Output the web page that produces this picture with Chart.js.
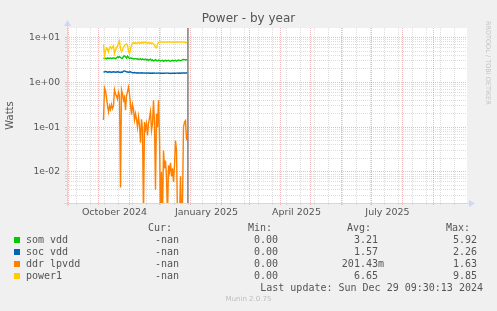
<!DOCTYPE html>
<html>
<head>
<meta charset="utf-8">
<script src="https://cdn.jsdelivr.net/npm/chart.js"></script>
<style>
html, body { margin: 0; padding: 0; background: #f0f0f0; }
#wrap { position: relative; width: 497px; height: 311px; overflow: hidden; font-family: "DejaVu Sans", sans-serif; color: #555; }
#chart { position: absolute; left: 0; top: 0; }
.t { position: absolute; white-space: pre; }
.mono { font-family: "DejaVu Sans Mono", monospace; font-size: 10px; line-height: 12px; }
.sw { position: absolute; width: 6px; height: 6px; }
</style>
</head>
<body>
<div id="wrap">
<canvas id="chart" width="497" height="311"></canvas>
<div class="t" style="left:0;width:497px;top:11px;text-align:center;font-size:12px;line-height:15px;">Power - by year</div>
<div class="t" style="left:484px;top:21px;writing-mode:vertical-rl;font-size:6.5px;color:#c4c4c4;">RRDTOOL / TOBI OETIKER</div>
<div class="t" style="left:0;width:497px;top:295px;text-align:center;font-size:7px;line-height:9px;color:#bdbdbd;">Munin 2.0.75</div>
<div id="legend"></div>
</div>
<script>
// days counted from 1 Jan 2025
const firstDay = -87;          // 5 Oct 2024, one value per day
const nowDay = -2.6;           // Sun Dec 29 09:30:13 2024

const seriesNames = ['som vdd', 'soc vdd', 'ddr lpvdd', 'power1'];
const seriesColors = ['#00CC00', '#0066B3', '#FF8000', '#FFCC00'];

const somVdd = [
  3.5, 3.4, 3.45, 3.35, 3.5, 3.4, 3.45, 3.5, 3.4, 3.45,
  3.5, 3.45, 3.4, 3.5, 3.7, 3.6, 3.75, 3.6, 3.4, 3.45,
  3.8, 3.9, 3.7, 3.5, 3.85, 3.6, 3.4, 3.5, 3.45, 3.4,
  3.35, 3.3, 3.4, 3.3, 3.35, 3.25, 3.3, 3.35, 3.2, 3.3,
  3.25, 3.2, 3.3, 3.15, 3.25, 3.1, 3.2, 3.3, 3.05, 3.15,
  3.0, 3.1, 3.2, 3.05, 3.0, 3.15, 3.1, 3.0, 3.05, 3.1,
  2.95, 3.05, 3.1, 3.0, 3.05, 3.1, 3.0, 2.95, 3.05, 3.1,
  3.0, 3.05, 3.1, 3.0, 3.05, 3.15, 3.1, 3.05, 3.1, 3.2,
  3.25, 3.2, 3.15, 3.2, 3.2
];
const socVdd = [
  1.72, 1.70, 1.75, 1.72, 1.68, 1.70, 1.72, 1.70, 1.68, 1.70,
  1.72, 1.70, 1.68, 1.70, 1.72, 1.70, 1.68, 1.66, 1.70, 1.68,
  1.78, 1.80, 1.76, 1.72, 1.70, 1.68, 1.70, 1.72, 1.66, 1.64,
  1.64, 1.65, 1.63, 1.62, 1.64, 1.62, 1.61, 1.62, 1.63, 1.62,
  1.61, 1.62, 1.60, 1.61, 1.62, 1.61, 1.60, 1.61, 1.60, 1.61,
  1.60, 1.61, 1.60, 1.59, 1.60, 1.61, 1.60, 1.59, 1.60, 1.59,
  1.60, 1.59, 1.60, 1.61, 1.60, 1.59, 1.60, 1.58, 1.59, 1.60,
  1.59, 1.60, 1.59, 1.60, 1.61, 1.60, 1.61, 1.60, 1.61, 1.61,
  1.61, 1.62, 1.61, 1.62, 1.62
];
const ddrLpvdd = [
  0.145, 0.75, 0.65, 0.45, 0.30, 0.22, 0.30, 0.25, 0.32, 0.26,
  0.30, 0.68, 0.55, 0.50, 0.42, 0.60, 0.50, 0.0045, 0.68, 0.55,
  0.40, 0.47, 0.24, 0.50, 0.62, 0.78, 0.55, 0.32, 0.19, 0.32,
  0.25, 0.145, 0.20, 0.15, 0.10, 0.17, 0.11, 0.045, 0.15, 0.09,
  0.001, 0.13, 0.09, 0.12, 0.065, 0.12, 0.16, 0.22, 0.085, 0.12,
  0.40, 0.12, 0.004, 0.20, 0.10, 0.40, 0.06, 0.001, 0.01, 0.001,
  0.03, 0.012, 0.018, 0.008, 0.001, 0.014, 0.010, 0.016, 0.008, 0.012,
  0.006, 0.014, 0.05, 0.03, 0.001, 0.002, 0.001, 0.008, 0.001, 0.002,
  0.10, 0.13, 0.14, 0.055, 0.05
];
const power1 = [
  7.0, 3.9, 5.0, 5.8, 5.5, 4.8, 6.0, 6.2, 5.6, 6.1,
  6.5, 4.4, 5.2, 6.0, 6.4, 7.5, 8.4, 5.6, 4.8, 5.2,
  6.1, 6.6, 7.0, 7.2, 6.8, 5.0, 4.4, 5.4, 6.8, 7.5,
  7.6, 7.4, 7.7, 7.3, 7.6, 7.8, 7.4, 7.7, 7.5, 7.8,
  7.6, 7.9, 7.6, 7.7, 7.5, 7.7, 7.4, 7.6, 7.3, 7.5,
  7.2, 6.8, 6.0, 5.9, 7.1, 7.8, 7.9, 7.95, 7.9, 7.95,
  8.0, 7.95, 7.9, 7.95, 7.9, 7.95, 8.0, 7.95, 7.9, 7.95,
  7.9, 7.95, 7.9, 7.95, 8.0, 7.95, 7.9, 7.95, 7.9, 7.95,
  7.9, 7.95, 7.6, 7.7, 7.9
];
const seriesValues = [somVdd, socVdd, ddrLpvdd, power1];

const legendCur = ['-nan', '-nan', '-nan', '-nan'];
const legendMin = ['0.00', '0.00', '0.00', '0.00'];
const legendAvg = ['3.21', '1.57', '201.43m', '6.65'];
const legendMax = ['5.92', '2.26', '1.63', '9.85'];
const lastUpdate = 'Last update: Sun Dec 29 09:30:13 2024';

// axis
const xMin = -123.5, xMax = 276.5;
const yMin = 0.00203, yMax = 16.3;
const xLabelDays = [-76, 16, 106, 197];
const xLabels = ['October 2024', 'January 2025', 'April 2025', 'July 2025'];
const monthStartDays = [-122, -92, -61, -31, 0, 31, 59, 90, 120, 151, 181, 212, 243];
const biweekDays = [-114, -100, -86, -72, -58, -44, -30, -16, -2, 12, 26, 40, 54, 68, 82, 96,
  110, 124, 138, 152, 166, 180, 194, 208, 222, 236, 250, 264];
const yTickValues = [10, 1, 0.1, 0.01];
const yTickLabels = ['1e+01', '1e+00', '1e-01', '1e-02'];

const majorGrid = 'rgba(225, 100, 100, 0.45)';
const minorGrid = 'rgba(150, 150, 150, 0.32)';
const axisBlue = '#CFD6F8';

const datasets = seriesValues.map((vals, s) => ({
  label: seriesNames[s],
  data: vals.map((v, i) => ({ x: firstDay + i, y: v })),
  borderColor: seriesColors[s],
  borderWidth: 1.4,
  pointRadius: 0,
  tension: 0,
  order: 4 - s
}));
datasets.push({
  label: 'now',
  data: [{ x: nowDay, y: yMin }, { x: nowDay, y: yMax }],
  borderColor: '#808080',
  borderWidth: 1.5,
  pointRadius: 0,
  order: 0
});

const frame = {
  id: 'frame',
  beforeDraw(c) {
    const a = c.chartArea, g = c.ctx;
    g.save();
    g.fillStyle = '#fff';
    g.fillRect(a.left, a.top, a.right - a.left, a.bottom - a.top);
    g.restore();
  },
  afterDraw(c) {
    const a = c.chartArea, g = c.ctx;
    g.save();
    g.strokeStyle = axisBlue;
    g.fillStyle = axisBlue;
    g.lineWidth = 1;
    g.beginPath();
    g.moveTo(a.left - 3, a.bottom + 0.5); g.lineTo(a.right + 4, a.bottom + 0.5);
    g.moveTo(a.left + 0.5, a.bottom + 3); g.lineTo(a.left + 0.5, a.top - 4);
    g.stroke();
    g.beginPath();
    g.moveTo(a.right + 8, a.bottom + 0.5); g.lineTo(a.right + 2, a.bottom - 3); g.lineTo(a.right + 2, a.bottom + 4);
    g.closePath(); g.fill();
    g.beginPath();
    g.moveTo(a.left + 0.5, a.top - 8); g.lineTo(a.left - 3, a.top - 2); g.lineTo(a.left + 4, a.top - 2);
    g.closePath(); g.fill();
    g.restore();
  }
};

new Chart(document.getElementById('chart'), {
  type: 'line',
  data: { datasets },
  plugins: [frame],
  options: {
    responsive: false,
    animation: false,
    devicePixelRatio: 1,
    layout: { padding: { top: 28, right: 30, left: 0, bottom: 0 } },
    plugins: { legend: { display: false }, tooltip: { enabled: false } },
    scales: {
      x: {
        type: 'linear',
        min: xMin,
        max: xMax,
        afterFit(s) { s.height = 108; },
        afterBuildTicks(s) {
          const t = [];
          monthStartDays.forEach(d => t.push({ value: d, kind: 'm' }));
          biweekDays.forEach(d => t.push({ value: d, kind: 'w' }));
          xLabelDays.forEach((d, i) => t.push({ value: d, kind: 'l', name: xLabels[i] }));
          t.sort((a, b) => a.value - b.value);
          s.ticks = t;
        },
        ticks: {
          autoSkip: false,
          maxRotation: 0,
          padding: 2,
          color: '#555',
          font: { family: 'DejaVu Sans', size: 9.5 },
          callback(v, i, ticks) { return ticks[i].kind === 'l' ? ticks[i].name : ''; }
        },
        grid: {
          tickLength: 2,
          color(ctx) {
            const k = ctx.tick && ctx.tick.kind;
            if (k === 'm') return majorGrid;
            if (k === 'w') return minorGrid;
            return 'rgba(0,0,0,0)';
          }
        },
        border: { display: false, dash: [1, 1] }
      },
      y: {
        type: 'logarithmic',
        min: yMin,
        max: yMax,
        afterFit(s) { s.width = 67; },
        afterBuildTicks(s) {
          const t = [];
          for (let e = -3; e <= 1; e++) {
            for (let k = 1; k <= 9; k++) {
              const v = k * Math.pow(10, e);
              if (v >= yMin && v <= yMax) t.push({ value: v, major: k === 1 });
            }
          }
          s.ticks = t;
        },
        ticks: {
          autoSkip: false,
          padding: 5,
          color: '#555',
          font: { family: 'DejaVu Sans', size: 9.2 },
          callback(v) {
            const j = yTickValues.findIndex(tv => Math.abs(tv - v) / tv < 1e-6);
            return j >= 0 ? yTickLabels[j] : '';
          }
        },
        grid: {
          tickLength: 2,
          color(ctx) { return ctx.tick && ctx.tick.major ? majorGrid : minorGrid; }
        },
        border: { display: false, dash: [1, 1] },
        title: {
          display: true,
          text: 'Watts',
          color: '#555',
          font: { family: 'DejaVu Sans', size: 10 },
          padding: { top: 4, bottom: 0 }
        }
      }
    }
  }
});

// legend table
const lg = document.getElementById('legend');
function cell(text, rightEdge, top) {
  const d = document.createElement('div');
  d.className = 't mono';
  d.style.right = (497 - rightEdge) + 'px';
  d.style.top = top + 'px';
  d.style.textAlign = 'right';
  d.textContent = text;
  lg.appendChild(d);
}
function val(s) { return /[a-zA-Z]$/.test(s) && s !== '-nan' ? s : s + ' '; }
const headTop = 221.5;
cell('Cur:', 172, headTop);
cell('Min:', 272, headTop);
cell('Avg:', 371, headTop);
cell('Max:', 470, headTop);
seriesNames.forEach((n, i) => {
  const top = 234 + 12 * i;
  const sw = document.createElement('div');
  sw.className = 'sw';
  sw.style.left = '14px';
  sw.style.top = (top + 3) + 'px';
  sw.style.background = seriesColors[i];
  lg.appendChild(sw);
  const nm = document.createElement('div');
  nm.className = 't mono';
  nm.style.left = '26px';
  nm.style.top = top + 'px';
  nm.textContent = n;
  lg.appendChild(nm);
  cell(val(legendCur[i]), 185, top);
  cell(val(legendMin[i]), 284, top);
  cell(val(legendAvg[i]), 384, top);
  cell(val(legendMax[i]), 483, top);
});
cell(lastUpdate, 483, 281.5);
</script>
</body>
</html>
